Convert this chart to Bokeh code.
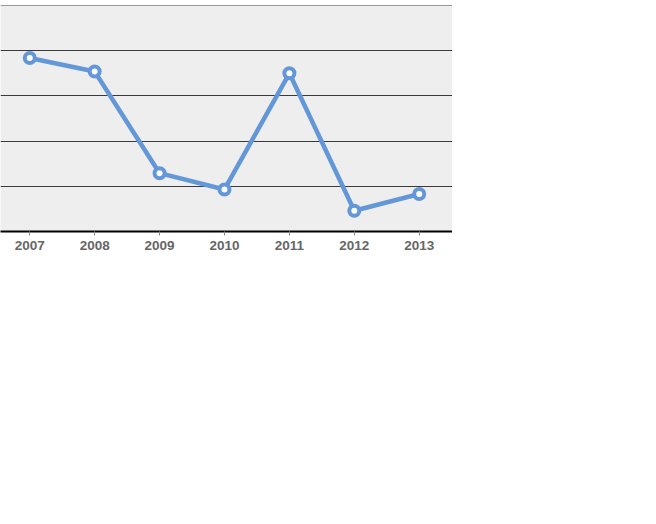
from bokeh.plotting import figure
from bokeh.models import FixedTicker, Grid, Range1d
from bokeh.embed import file_html
from bokeh.resources import INLINE

years = [2007, 2008, 2009, 2010, 2011, 2012, 2013]
year_labels = ["2007", "2008", "2009", "2010", "2011", "2012", "2013"]
values = [38.4, 35.4, 12.9, 9.3, 35.0, 4.6, 8.3]
grid_values = [0, 10, 20, 30, 40, 49.9]

LINE = "#6497d8"

p = figure(
    frame_width=452, frame_height=226,
    x_range=Range1d(2006.549, 2013.513),
    y_range=Range1d(0, 50),
    output_backend="svg", toolbar_location=None,
    y_axis_location=None,
    min_border_left=0, min_border_right=0, min_border_top=5, min_border_bottom=0,
)
p.background_fill_color = "#eeeeee"
p.border_fill_color = "white"
p.outline_line_color = None
p.xgrid.visible = False

g = Grid(dimension=1, ticker=FixedTicker(ticks=grid_values),
         grid_line_color="#3a3a3a", grid_line_width=1)
p.add_layout(g)

ax = p.xaxis[0]
ax.ticker = FixedTicker(ticks=years)
ax.major_label_overrides = {y: l for y, l in zip(years, year_labels)}
ax.axis_line_color = "black"
ax.axis_line_width = 2
ax.major_tick_out = 4
ax.major_tick_in = 0
ax.major_tick_line_color = "#888888"
ax.minor_tick_line_color = None
ax.major_label_standoff = 5
ax.major_label_text_font = "Liberation Sans"
ax.major_label_text_font_style = "bold"
ax.major_label_text_font_size = "13.5px"
ax.major_label_text_color = "#666666"

p.line(years, values, line_color=LINE, line_width=4.5)
p.scatter(years, values, marker="circle", size=10, line_color=LINE, line_width=4, fill_color="white")

open("out.html", "w").write(file_html(p, INLINE))
